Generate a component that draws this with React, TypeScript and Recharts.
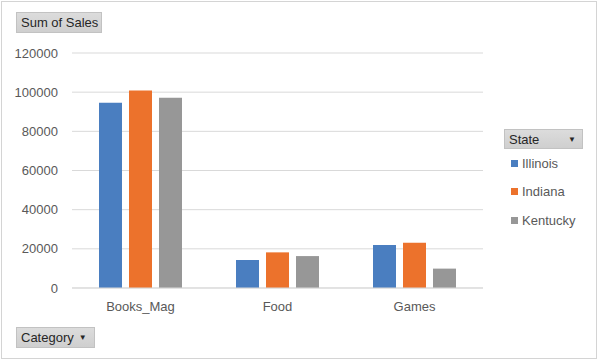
import React from "react";
import { BarChart, Bar, XAxis, YAxis, CartesianGrid } from "recharts";

const categories = ["Books_Mag", "Food", "Games"];
const illinois = [94600, 14300, 22000];
const indiana = [100900, 18200, 23100];
const kentucky = [97200, 16300, 9900];
const yTicks = [0, 20000, 40000, 60000, 80000, 100000, 120000];

const seriesNames = ["Illinois", "Indiana", "Kentucky"];
const seriesColors = ["#4a7ec0", "#ec722c", "#979797"];

const data = categories.map((c, i) => ({
  category: c,
  Illinois: illinois[i],
  Indiana: indiana[i],
  Kentucky: kentucky[i],
}));

const FONT = "'Liberation Sans', Arial, sans-serif";

const buttonStyle: React.CSSProperties = {
  position: "absolute",
  boxSizing: "border-box",
  background: "linear-gradient(#dcdcdc, #cfcfcf)",
  border: "1px solid #c2c2c2",
  fontFamily: FONT,
  fontSize: 13,
  color: "#262626",
  display: "flex",
  alignItems: "center",
  paddingLeft: 4,
  whiteSpace: "nowrap",
};

const LegendBox = () => (
  <div style={{ fontFamily: FONT, position: "absolute", left: 504, top: 129, width: 90 }}>
    <div
      style={{
        ...buttonStyle,
        position: "relative",
        width: 79,
        height: 20,
        justifyContent: "space-between",
        paddingRight: 6,
      }}
    >
      <span>State</span>
      <span style={{ fontSize: 8 }}>▼</span>
    </div>
    {seriesNames.map((n, i) => (
      <div
        key={n}
        style={{
          display: "flex",
          alignItems: "center",
          height: 28.5,
          paddingLeft: 7,
          fontSize: 13,
          color: "#595959",
        }}
      >
        <span
          style={{
            display: "inline-block",
            width: 7,
            height: 7,
            background: seriesColors[i],
            marginRight: 4,
          }}
        />
        {n}
      </div>
    ))}
  </div>
);

export default function App() {
  return (
    <div
      style={{
        position: "absolute",
        left: 0,
        top: 0,
        width: 600,
        height: 362,
        background: "#ffffff",
      }}
    >
      <div
        style={{
          position: "absolute",
          left: 1,
          top: 1,
          width: 596,
          height: 358,
          border: "1px solid #d4d4d4",
          boxSizing: "border-box",
        }}
      />
      <BarChart
        width={600}
        height={362}
        data={data}
        margin={{ top: 53, right: 117, bottom: 44, left: 0 }}
        barSize={23}
        barGap={7}
      >
        <CartesianGrid vertical={false} stroke="#d9d9d9" />
        <XAxis
          dataKey="category"
          height={30}
          axisLine={{ stroke: "#d9d9d9" }}
          tickLine={false}
          tickSize={0}
          tickMargin={14}
          tick={{ fill: "#595959", fontSize: 13, fontFamily: FONT }}
        />
        <YAxis
          width={72}
          domain={[0, 120000]}
          ticks={yTicks}
          axisLine={false}
          tickLine={false}
          tickSize={0}
          tickMargin={14}
          tick={{ fill: "#595959", fontSize: 13, fontFamily: FONT }}
        />
        {seriesNames.map((n, i) => (
          <Bar key={n} dataKey={n} fill={seriesColors[i]} isAnimationActive={false} />
        ))}
      </BarChart>
      <LegendBox />
      <div style={{ ...buttonStyle, left: 16, top: 12, width: 86, height: 21 }}>
        Sum of Sales
      </div>
      <div
        style={{
          ...buttonStyle,
          left: 16,
          top: 327,
          width: 79,
          height: 21,
        }}
      >
        Category <span style={{ fontSize: 8, marginLeft: 5 }}>▼</span>
      </div>
    </div>
  );
}
